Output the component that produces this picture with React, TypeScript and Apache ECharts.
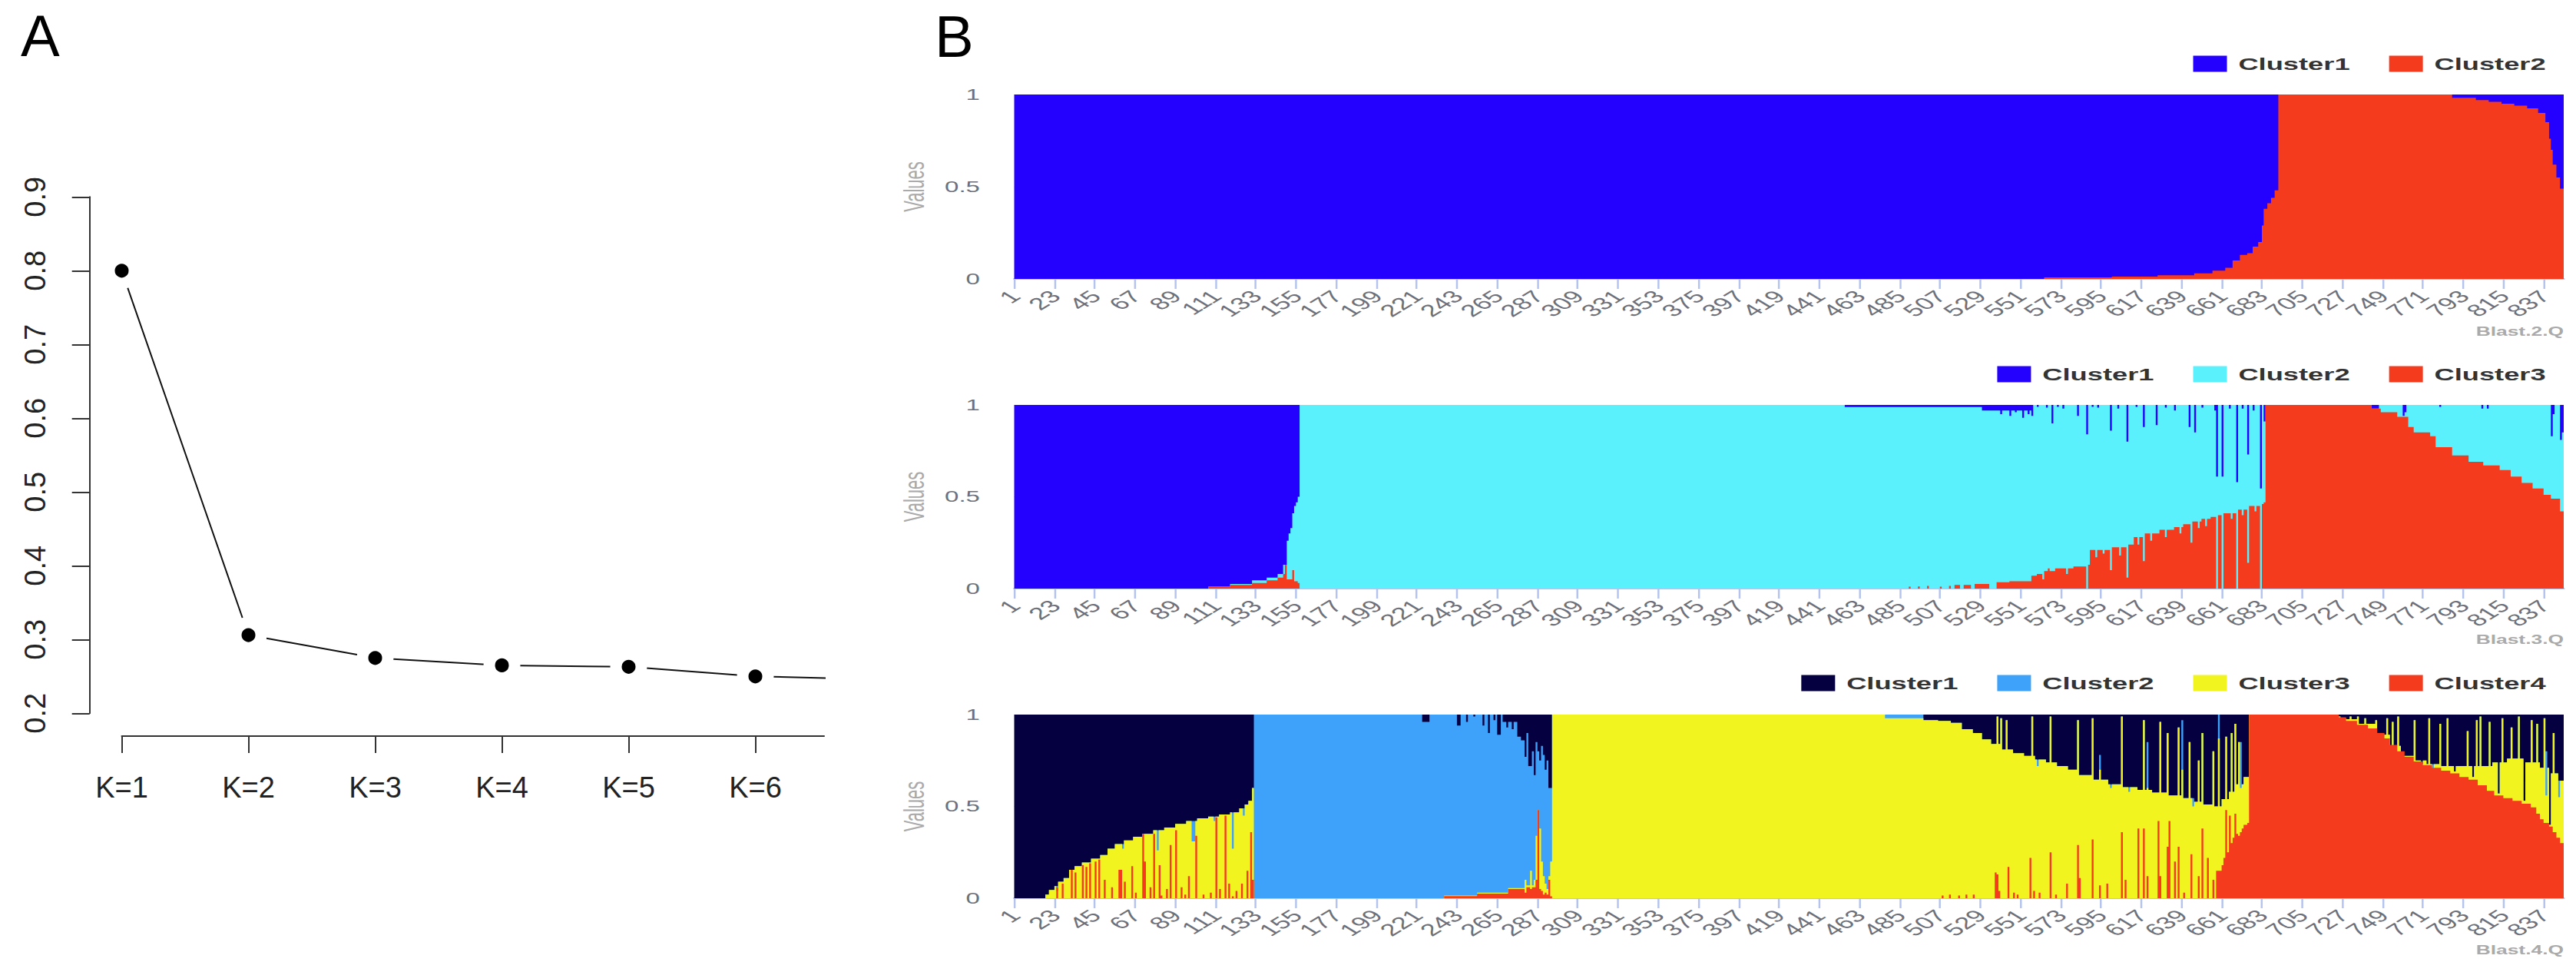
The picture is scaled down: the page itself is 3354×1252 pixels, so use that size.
import React, { useEffect, useRef } from 'react';
import * as echarts from 'echarts';

// ---------------- Panel A data ----------------
const K_LABELS = ['K=1', 'K=2', 'K=3', 'K=4', 'K=5', 'K=6', 'K=7'];
const K_POS = [1, 2, 3, 4, 5, 6, 7];
const CV_ERROR = [0.8, 0.306, 0.275, 0.265, 0.263, 0.25, 0.246];
const A_TICKS = [1, 2, 3, 4, 5, 6];

// ---------------- Panel B data ----------------
const N = 847; // individuals
const IND_TICKS = [1, 23, 45, 67, 89, 111, 133, 155, 177, 199, 221, 243, 265, 287, 309, 331, 353, 375, 397, 419,
  441, 463, 485, 507, 529, 551, 573, 595, 617, 639, 661, 683, 705, 727, 749, 771, 793, 815, 837];

// [from, to, value] per individual (1-based, inclusive): cumulative admixture boundaries
type Seg = [number, number, number];

// K = 2 : top of Cluster2 (bottom, red); Cluster1 above
const P1_B1: Seg[] = [
  [564, 600, 0.008], [601, 625, 0.012], [626, 645, 0.02], [646, 655, 0.03], [656, 662, 0.045], [663, 666, 0.06],
  [667, 670, 0.1], [671, 674, 0.13], [675, 677, 0.14], [678, 680, 0.175], [681, 682, 0.2], [683, 683, 0.29],
  [684, 685, 0.38], [686, 687, 0.41], [688, 689, 0.44], [690, 691, 0.48], [692, 786, 1], [787, 799, 0.982],
  [800, 806, 0.97], [807, 813, 0.96], [814, 820, 0.95], [821, 827, 0.94], [828, 833, 0.925], [834, 837, 0.9],
  [838, 839, 0.85], [840, 840, 0.76], [841, 841, 0.7], [842, 843, 0.62], [844, 845, 0.55], [846, 847, 0.49],
];

// K = 3 : top of Cluster3 (red) and top of Cluster2 (cyan); Cluster1 above
const P2_B1: Seg[] = [
  [107, 118, 0.01], [119, 130, 0.02], [131, 138, 0.03], [139, 144, 0.045], [145, 147, 0.06], [148, 148, 0.08],
  [149, 149, 0.13], [150, 152, 0.05], [153, 153, 0.1], [154, 155, 0.04], [156, 156, 0.03],
  [490, 490, 0.01], [495, 495, 0.012], [500, 500, 0.015], [507, 507, 0.01], [512, 512, 0.015], [515, 517, 0.02],
  [520, 523, 0.02], [526, 529, 0.025], [530, 533, 0.025], [538, 544, 0.035], [545, 556, 0.04], [557, 559, 0.07],
  [560, 563, 0.08], [563, 563, 0.05], [564, 569, 0.095], [566, 566, 0.11], [570, 579, 0.11], [576, 576, 0.08],
  [580, 586, 0.12], [588, 588, 0.13], [589, 599, 0.21], [592, 592, 0.17], [596, 596, 0.19], [600, 600, 0.1],
  [601, 608, 0.225], [605, 605, 0.18], [609, 609, 0.06], [610, 612, 0.24], [613, 617, 0.28], [615, 615, 0.24],
  [618, 618, 0.15], [619, 626, 0.3], [622, 622, 0.26], [627, 634, 0.32], [630, 630, 0.28], [635, 639, 0.335],
  [638, 638, 0.3], [640, 643, 0.35], [644, 644, 0.25], [645, 649, 0.365], [648, 648, 0.33], [650, 654, 0.38],
  [652, 652, 0.34], [655, 657, 0.39], [659, 660, 0.4], [662, 668, 0.41], [666, 666, 0.38], [670, 674, 0.43],
  [672, 672, 0.4], [675, 675, 0.14], [676, 681, 0.45], [679, 679, 0.42], [683, 683, 0.46], [684, 684, 0.47],
  [685, 742, 1], [743, 747, 0.98], [748, 756, 0.96], [757, 762, 0.935], [763, 765, 0.88], [766, 774, 0.85],
  [775, 777, 0.83], [778, 786, 0.77], [787, 795, 0.725], [796, 803, 0.69], [804, 812, 0.67], [813, 818, 0.645],
  [819, 824, 0.61], [825, 830, 0.575], [831, 836, 0.545], [837, 840, 0.51], [841, 845, 0.49], [846, 847, 0.42],
];
const P2_B2: Seg[] = [
  [107, 118, 0.01], [119, 130, 0.025], [131, 138, 0.045], [139, 144, 0.06], [145, 147, 0.08], [148, 149, 0.13],
  [150, 150, 0.26], [151, 151, 0.3], [152, 152, 0.33], [153, 153, 0.41], [154, 154, 0.45], [155, 155, 0.47],
  [156, 156, 0.5], [157, 847, 1], [455, 529, 0.988], [530, 556, 0.97], [540, 540, 0.95], [545, 545, 0.94],
  [548, 548, 0.96], [552, 552, 0.93], [555, 555, 0.95],
  [557, 557, 0.94], [560, 560, 0.99], [565, 565, 0.985], [568, 568, 0.9], [571, 571, 0.99], [574, 574, 0.98],
  [582, 582, 0.94], [587, 587, 0.84], [590, 590, 0.99], [593, 593, 0.985], [600, 600, 0.86], [604, 604, 0.98],
  [609, 609, 0.8], [614, 614, 0.99], [618, 618, 0.88], [625, 625, 0.89], [630, 630, 0.985], [635, 635, 0.97],
  [643, 643, 0.88], [646, 646, 0.85], [650, 650, 0.985], [657, 657, 0.97], [658, 658, 0.61], [661, 661, 0.61],
  [665, 665, 0.98], [669, 669, 0.58], [672, 672, 0.98], [675, 675, 0.73], [678, 678, 0.97], [682, 682, 0.545],
  [684, 684, 0.91], [743, 746, 0.98], [760, 760, 0.94], [761, 761, 0.96], [780, 780, 0.99], [803, 803, 0.98],
  [806, 806, 0.98], [841, 841, 0.83], [842, 842, 0.95], [846, 846, 0.81], [847, 847, 0.85],
];

// K = 4 : tops of Cluster4 (red), Cluster3 (yellow), Cluster2 (light blue); Cluster1 above
const P3_B3: Seg[] = [
  [18, 19, 0.02], [20, 22, 0.045], [23, 24, 0.066], [25, 27, 0.09], [28, 30, 0.11], [31, 33, 0.155], [34, 37, 0.175],
  [38, 42, 0.195], [43, 47, 0.215], [48, 51, 0.235], [52, 55, 0.27], [56, 60, 0.295], [61, 65, 0.315],
  [66, 70, 0.335], [71, 76, 0.35], [77, 82, 0.37], [83, 88, 0.385], [89, 94, 0.405], [95, 100, 0.42],
  [101, 106, 0.435], [107, 112, 0.445], [113, 118, 0.456], [119, 123, 0.468], [124, 126, 0.49], [127, 128, 0.51],
  [129, 130, 0.53], [131, 131, 0.6],
  [132, 294, 1], [224, 227, 0.96], [243, 244, 0.94], [248, 248, 0.96], [252, 252, 0.99], [257, 257, 0.94],
  [260, 260, 0.9], [263, 263, 0.97], [265, 266, 0.89], [268, 279, 0.96], [270, 270, 0.93], [273, 273, 0.92],
  [276, 277, 0.88], [278, 279, 0.86], [280, 280, 0.77], [281, 281, 0.9], [282, 283, 0.72], [284, 284, 0.8],
  [285, 285, 0.67], [286, 286, 0.85], [287, 287, 0.8], [288, 288, 0.75], [289, 289, 0.83], [290, 290, 0.78],
  [291, 291, 0.7], [292, 292, 0.75], [293, 294, 0.6],
  [295, 675, 1], [498, 505, 0.97], [506, 512, 0.965], [513, 518, 0.955], [519, 524, 0.92], [525, 529, 0.9],
  [530, 534, 0.865], [535, 540, 0.84], [541, 546, 0.81], [547, 552, 0.79], [553, 558, 0.775], [559, 564, 0.755],
  [565, 570, 0.74], [571, 576, 0.72], [577, 582, 0.7], [583, 590, 0.67], [591, 598, 0.645], [599, 606, 0.62],
  [607, 614, 0.605], [615, 622, 0.59], [623, 630, 0.575], [631, 638, 0.56], [639, 645, 0.545], [646, 650, 0.525],
  [651, 656, 0.51], [657, 660, 0.5], [661, 664, 0.54], [665, 668, 0.58], [669, 672, 0.62], [673, 675, 0.66],
  [538, 538, 0.99], [540, 540, 0.98], [543, 543, 0.97], [557, 557, 0.99], [567, 567, 0.99], [582, 582, 0.97],
  [590, 590, 0.98], [606, 606, 0.99], [618, 618, 0.97], [627, 627, 0.96], [631, 631, 0.9], [637, 637, 0.93],
  [643, 643, 0.85], [648, 648, 0.75], [650, 650, 0.9], [656, 656, 0.8], [663, 663, 0.88], [666, 666, 0.9],
  [668, 668, 0.95], [670, 670, 0.85], [594, 594, 0.78], [620, 620, 0.85], [639, 639, 0.97], [659, 659, 1],
  [671, 671, 0.85],
  [676, 724, 1], [725, 735, 0.975], [736, 745, 0.95], [746, 752, 0.89], [753, 758, 0.83], [759, 765, 0.775],
  [766, 772, 0.75], [773, 780, 0.73], [781, 808, 0.72], [809, 816, 0.74], [817, 826, 0.76], [827, 834, 0.74],
  [835, 840, 0.71], [841, 844, 0.68], [845, 847, 0.64],
  [725, 725, 0.99], [728, 728, 0.98], [731, 731, 0.99], [735, 735, 0.99], [739, 739, 0.98], [745, 745, 0.97],
  [751, 751, 0.98], [754, 754, 0.96], [757, 757, 0.99], [766, 766, 0.97], [774, 774, 0.98], [780, 780, 0.95],
  [784, 784, 0.98], [795, 795, 0.91], [800, 800, 0.97], [802, 802, 0.99], [807, 807, 0.96], [814, 814, 0.98],
  [819, 819, 0.93], [823, 823, 0.99], [830, 830, 0.97], [833, 833, 0.95], [837, 837, 0.98], [842, 842, 0.9],
  [770, 770, 0.73], [788, 788, 0.69], [798, 798, 0.66], [812, 812, 0.57], [826, 826, 0.53], [840, 840, 0.4],
  [838, 838, 0.8], [776, 776, 0.73],
];
// yellow top: same as light-blue top except where Cluster2 shows
const P3_B2: Seg[] = [
  [24, 24, 0.04], [60, 60, 0.27], [79, 79, 0.26], [98, 99, 0.31], [110, 110, 0.42], [120, 120, 0.27],
  [126, 126, 0.45],
  [132, 235, 0], [236, 253, 0.015], [254, 270, 0.03], [271, 279, 0.055], [280, 280, 0.1], [281, 282, 0.07],
  [283, 283, 0.15], [284, 284, 0.07], [285, 285, 0.1], [286, 286, 0.34], [287, 287, 0.48], [288, 288, 0.38],
  [289, 289, 0.2], [290, 290, 0.12], [291, 291, 0.08], [292, 292, 0.05], [293, 293, 0.12], [294, 294, 0.2],
  [477, 497, 0.98], [560, 560, 0.72], [594, 594, 0.7], [600, 600, 0.6], [610, 610, 0.58], [620, 620, 0.6],
  [639, 639, 0.7], [645, 645, 0.5], [659, 659, 0.87], [671, 671, 0.6],
  [776, 776, 0.7], [838, 838, 0.56], [845, 845, 0.55],
];
const P3_B1: Seg[] = [
  [24, 24, 0.06], [27, 27, 0.08], [32, 32, 0.155], [34, 34, 0.14], [38, 38, 0.18], [40, 40, 0.17], [42, 42, 0.19],
  [45, 45, 0.2], [47, 47, 0.21], [50, 50, 0.1], [54, 54, 0.06], [58, 59, 0.155], [61, 61, 0.09], [65, 65, 0.175],
  [67, 67, 0.03], [71, 71, 0.35], [72, 72, 0.2], [75, 75, 0.06], [77, 77, 0.35], [80, 80, 0.18], [81, 81, 0.015],
  [84, 84, 0.05], [86, 86, 0.29], [89, 89, 0.37], [92, 92, 0.06], [94, 94, 0.02], [96, 96, 0.12], [100, 100, 0.34],
  [104, 104, 0.02], [108, 108, 0.03], [111, 111, 0.44], [113, 113, 0.05], [116, 116, 0.45], [118, 118, 0.08],
  [120, 120, 0.01], [122, 122, 0.04], [125, 125, 0.08], [128, 128, 0.15], [130, 130, 0.36], [131, 131, 0.1],
  [236, 253, 0.012], [254, 270, 0.025], [271, 279, 0.05], [280, 280, 0.03], [281, 282, 0.06], [283, 283, 0.05],
  [284, 285, 0.06], [286, 286, 0.1], [287, 287, 0.48], [288, 288, 0.05], [289, 289, 0.04], [290, 290, 0.02],
  [291, 291, 0.03], [292, 292, 0.02], [293, 293, 0.1], [294, 294, 0.01],
  [508, 508, 0.015], [512, 512, 0.02], [517, 517, 0.015], [521, 521, 0.02], [525, 525, 0.02], [537, 537, 0.14],
  [538, 538, 0.13], [539, 539, 0.04], [544, 544, 0.17], [547, 547, 0.03], [549, 549, 0.02], [556, 556, 0.22],
  [558, 558, 0.04], [561, 561, 0.03], [567, 567, 0.25], [570, 570, 0.02], [576, 576, 0.08], [582, 582, 0.29],
  [583, 583, 0.11], [590, 590, 0.32], [594, 594, 0.07], [598, 598, 0.08], [606, 606, 0.36], [608, 608, 0.1],
  [615, 615, 0.38], [618, 618, 0.38], [620, 620, 0.12], [626, 626, 0.42], [627, 627, 0.12], [631, 631, 0.28],
  [632, 632, 0.42], [635, 635, 0.2], [637, 637, 0.28], [640, 640, 0.03], [644, 644, 0.24], [648, 648, 0.12],
  [650, 650, 0.38], [653, 653, 0.22], [656, 656, 0.1], [658, 660, 0.15], [661, 661, 0.18], [662, 662, 0.22],
  [663, 663, 0.48], [664, 664, 0.25], [665, 665, 0.45], [666, 666, 0.3], [667, 667, 0.33], [668, 668, 0.46],
  [669, 669, 0.35], [670, 670, 0.34], [671, 671, 0.36], [672, 672, 0.38], [673, 674, 0.4], [675, 675, 0.41],
  [676, 724, 1], [725, 728, 0.985], [729, 734, 0.965], [735, 740, 0.945], [741, 745, 0.925], [746, 749, 0.9],
  [750, 752, 0.87], [753, 756, 0.835], [757, 760, 0.8], [761, 765, 0.77], [766, 770, 0.745], [771, 775, 0.725],
  [776, 780, 0.71], [781, 785, 0.695], [786, 790, 0.68], [791, 795, 0.66], [796, 800, 0.645], [801, 805, 0.615],
  [806, 809, 0.585], [810, 814, 0.56], [815, 819, 0.545], [820, 824, 0.53], [825, 829, 0.515], [830, 832, 0.495],
  [833, 834, 0.46], [835, 836, 0.43], [837, 839, 0.41], [840, 841, 0.39], [842, 843, 0.36], [844, 845, 0.33],
  [846, 847, 0.3],
];

const TOTAL = 1; // all proportions of an individual add up to 1

function expand(segs: Seg[], base?: number[]): number[] {
  const out = base ? base.slice() : new Array(N).fill(0);
  for (const [a, b, v] of segs) for (let i = a; i <= b; i++) out[i - 1] = v;
  return out;
}

const BLUE = '#2400FF';
const RED = '#F43B1D';
const CYAN = '#5AF1FD';
const NAVY = '#05003F';
const LIGHTBLUE = '#3FA2FA';
const YELLOW = '#F2F41F';

const P3_B3v = expand(P3_B3);
const PANELS = [
  { tag: 'Blast.2.Q', clusters: ['Cluster1', 'Cluster2'], colors: [BLUE, RED], bounds: [expand(P1_B1)] },
  {
    tag: 'Blast.3.Q', clusters: ['Cluster1', 'Cluster2', 'Cluster3'], colors: [BLUE, CYAN, RED],
    bounds: [expand(P2_B1), expand(P2_B2)],
  },
  {
    tag: 'Blast.4.Q', clusters: ['Cluster1', 'Cluster2', 'Cluster3', 'Cluster4'], colors: [NAVY, LIGHTBLUE, YELLOW, RED],
    bounds: [expand(P3_B1), expand(P3_B2, P3_B3v), P3_B3v],
  },
];

// ---------------- layout ----------------
const FONT = 'Liberation Sans';
const B_LEFT = 1100;
const B_W = 1366;
const SX = (3354 - B_LEFT) / B_W; // panel B is drawn narrow and stretched horizontally
const cx = (xFull: number) => (xFull - B_LEFT) / SX;
const GRID_TOP = [123, 527, 930];
const GRID_H = [240, 239, 239];
const LEGEND_TOP = [67, 471, 873];
const TAG_Y = [432, 833, 1237];

function stepPoints(vals: number[]): number[][] {
  const pts: number[][] = [];
  vals.forEach((v, i) => {
    pts.push([i, v]);
    pts.push([i + 1, v]);
  });
  return pts;
}

function optionA(): any {
  return {
    animation: false,
    grid: { left: 158.5, top: 256.3, width: 914.5, height: 672, containLabel: false, outerBoundsMode: 'none' },
    xAxis: {
      type: 'value', min: 1, max: 1 + 914.5 / 165, offset: 29.7,
      axisLine: { show: true, lineStyle: { color: '#333', width: 2 } },
      axisTick: { show: true, customValues: A_TICKS, length: 22, lineStyle: { color: '#333', width: 2 } },
      axisLabel: {
        customValues: A_TICKS, formatter: (v: number) => K_LABELS[Math.round(v) - 1], margin: 48,
        fontSize: 38, fontFamily: FONT, color: '#222',
      },
      splitLine: { show: false },
    },
    yAxis: {
      type: 'value', min: 0.2, max: 0.9, interval: 0.1, offset: 41.8,
      axisLine: { show: true, lineStyle: { color: '#333', width: 2 } },
      axisTick: { show: true, length: 23, lineStyle: { color: '#333', width: 2 } },
      axisLabel: { rotate: 90, margin: 52, fontSize: 38, fontFamily: FONT, color: '#222' },
      splitLine: { show: false },
    },
    series: [{
      type: 'line', data: K_POS.map((k, i) => [k, CV_ERROR[i]]), clip: true, silent: true,
      symbol: 'circle', symbolSize: 33,
      itemStyle: { color: '#000', borderColor: '#fff', borderWidth: 15 },
      lineStyle: { color: '#111', width: 2 },
      emphasis: { disabled: true },
    }],
    graphic: [
      { type: 'text', x: 27, y: 46, style: { text: 'A', fontSize: 76, fontFamily: FONT, fill: '#000', align: 'left', verticalAlign: 'middle' } },
      { type: 'text', x: 1217, y: 47, style: { text: 'B', fontSize: 76, fontFamily: FONT, fill: '#000', align: 'left', verticalAlign: 'middle' } },
    ],
  };
}

function optionB(): any {
  const grid: any[] = [];
  const xAxis: any[] = [];
  const yAxis: any[] = [];
  const legend: any[] = [];
  const series: any[] = [];
  const graphic: any[] = [];
  PANELS.forEach((p, g) => {
    grid.push({
      left: cx(1320.5), right: B_W - cx(3338), top: GRID_TOP[g], height: GRID_H[g],
      containLabel: false, outerBoundsMode: 'none',
    });
    xAxis.push({
      type: 'value', gridIndex: g, min: 0, max: N,
      axisLine: { show: true, lineStyle: { color: '#b4c4ee', width: 2 } },
      axisTick: { show: true, customValues: IND_TICKS.map((t) => t - 1), length: 13, lineStyle: { color: '#b4c4ee', width: 1.5 } },
      axisLabel: {
        customValues: IND_TICKS.map((t) => t - 0.5), formatter: (v: number) => String(Math.round(v + 0.5)),
        rotate: 45, margin: 19, fontSize: 22, fontFamily: FONT, color: '#6E7079',
      },
      splitLine: { show: false },
    });
    yAxis.push({
      type: 'value', gridIndex: g, min: 0, max: 1, interval: 0.5,
      name: 'Values', nameLocation: 'middle', nameGap: 68,
      nameTextStyle: { fontSize: 22, color: '#aaa', fontFamily: FONT },
      axisLine: { show: false }, axisTick: { show: false },
      axisLabel: { margin: 27, fontSize: 20, color: '#6E7079', fontFamily: FONT },
      splitLine: { show: true, lineStyle: { color: '#d6e0f5', width: 1 } },
    });
    const K = p.clusters.length;
    legend.push({
      top: LEGEND_TOP[g], right: B_W - cx(3323), orient: 'horizontal', icon: 'rect',
      itemWidth: 44 / SX, itemHeight: 21, itemGap: 51 / SX, selectedMode: false,
      data: p.clusters.map((c, i) => ({ name: `${p.tag}|${c}`, itemStyle: { color: p.colors[i], borderWidth: 0 } })),
      formatter: (name: string) => name.split('|')[1],
      textStyle: { fontFamily: FONT, fontWeight: 'bold', fontSize: 22, color: '#333', padding: [0, 0, 0, 4] },
    });
    for (let c = 1; c <= K; c++) {
      const top = c === 1 ? p.bounds[0].map(() => TOTAL) : p.bounds[K - c];
      const color = p.colors[c - 1];
      series.push({
        type: 'line', name: `${p.tag}|${p.clusters[c - 1]}`, xAxisIndex: g, yAxisIndex: g,
        data: stepPoints(top), color, symbol: 'none', showSymbol: false, silent: true, clip: true,
        itemStyle: { color }, lineStyle: { width: 0, color }, areaStyle: { color, opacity: 1, origin: 'start' },
        emphasis: { disabled: true },
      });
    }
    graphic.push({
      type: 'text', x: cx(3338), y: TAG_Y[g],
      style: { text: p.tag, fontSize: 16, fontWeight: 'bold', fontFamily: FONT, fill: '#aaa', align: 'right', verticalAlign: 'middle' },
    });
  });
  return { animation: false, grid, xAxis, yAxis, legend, series, graphic };
}

export default function App() {
  const refA = useRef<HTMLDivElement>(null);
  const refB = useRef<HTMLDivElement>(null);
  useEffect(() => {
    const a = echarts.init(refA.current!, null, { renderer: 'svg' });
    a.setOption(optionA());
    const b = echarts.init(refB.current!, null, { renderer: 'svg' });
    b.setOption(optionB());
    return () => {
      a.dispose();
      b.dispose();
    };
  }, []);
  return (
    <div style={{ position: 'absolute', left: 0, top: 0, width: 3354, height: 1252, background: '#fff', overflow: 'hidden' }}>
      <div ref={refA} style={{ position: 'absolute', left: 0, top: 0, width: 1320, height: 1252 }} />
      <div
        ref={refB}
        style={{ position: 'absolute', left: B_LEFT, top: 0, width: B_W, height: 1252, transform: `scaleX(${SX})`, transformOrigin: '0 0' }}
      />
    </div>
  );
}
